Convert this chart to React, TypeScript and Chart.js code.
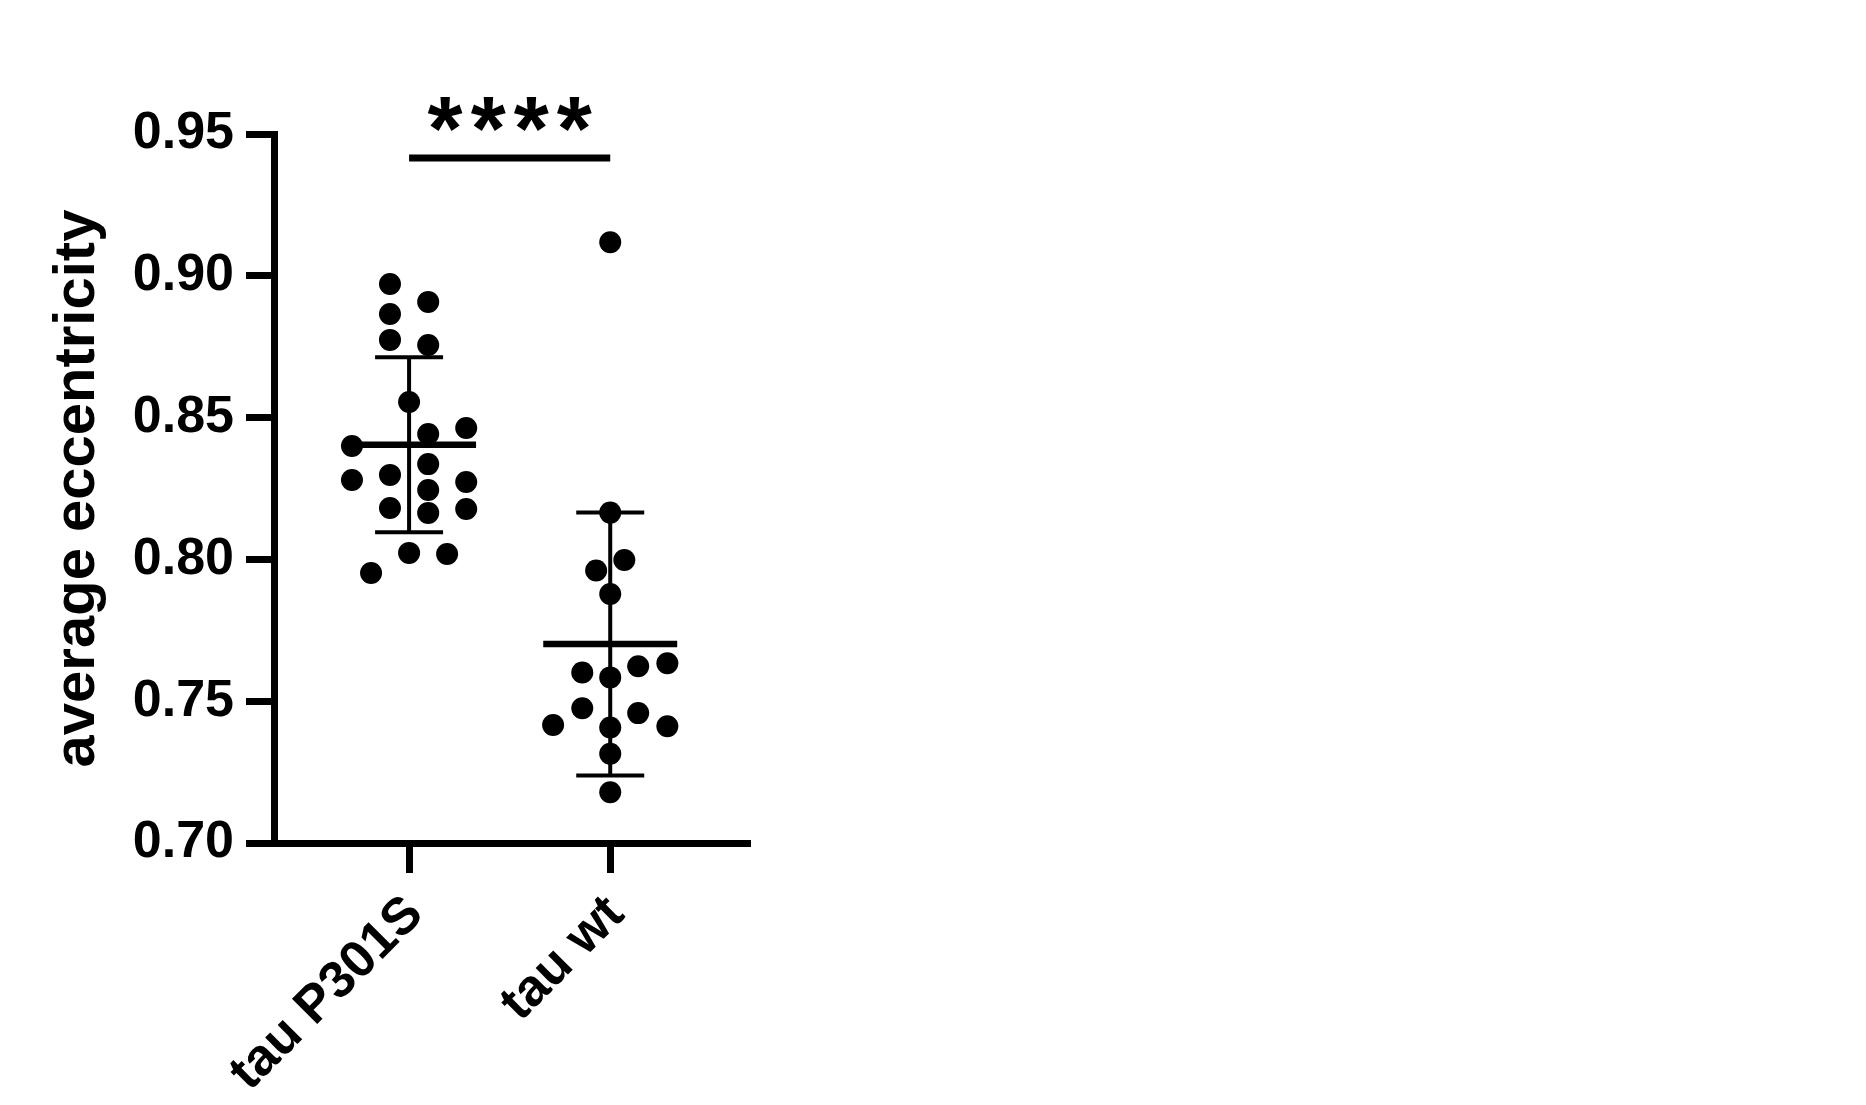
import { useEffect, useRef } from 'react';
import { Chart, registerables } from 'chart.js';

Chart.register(...registerables);

const categories = ['tau P301S', 'tau wt'];
const yTicks = [0.70, 0.75, 0.80, 0.85, 0.90, 0.95];

// tau P301S: each point's value and its sideways spread (category units)
const p301sValues = [
  0.8971, 0.8908, 0.8865, 0.8774, 0.8756, 0.8555, 0.8442, 0.8463, 0.8400, 0.8280,
  0.8298, 0.8336, 0.8245, 0.8273, 0.8181, 0.8164, 0.8178, 0.8023, 0.8019, 0.7952,
];
const p301sSpread = [
  -0.095, 0.095, -0.095, -0.095, 0.095, 0, 0.095, 0.284, -0.284, -0.284,
  -0.095, 0.095, 0.095, 0.284, -0.095, 0.095, 0.284, 0, 0.189, -0.189,
];

// tau wt
const wtValues = [
  0.9118, 0.8165, 0.7961, 0.7998, 0.7878, 0.7601, 0.7584, 0.7623,
  0.7634, 0.7475, 0.7458, 0.7416, 0.7407, 0.7412, 0.7315, 0.7179,
];
const wtSpread = [
  0, 0, -0.07, 0.07, 0, -0.139, 0, 0.139,
  0.284, -0.139, 0.139, -0.284, 0, 0.284, 0, 0,
];

const significance = '****';
const significanceBarY = 0.9415;

const FONT = '"Liberation Sans", Arial, sans-serif';

const mean = (v: number[]) => v.reduce((a, b) => a + b, 0) / v.length;
const stdev = (v: number[]) => {
  const m = mean(v);
  return Math.sqrt(v.reduce((a, b) => a + (b - m) ** 2, 0) / (v.length - 1));
};

const groups = [p301sValues, wtValues];

// mean ± SD bars, plus the significance bracket
const summaryPlugin = {
  id: 'summary',
  afterDatasetsDraw(chart: any) {
    const { ctx, scales } = chart;
    const x = scales.x;
    const y = scales.y;
    ctx.save();
    ctx.strokeStyle = '#000';
    ctx.fillStyle = '#000';
    ctx.lineCap = 'butt';

    groups.forEach((vals, i) => {
      const m = mean(vals);
      const sd = stdev(vals);
      const cx = x.getPixelForValue(i + 1);
      const meanHalf = x.getPixelForValue(i + 1 + 0.333) - cx;
      const capHalf = x.getPixelForValue(i + 1 + 0.169) - cx;
      const yTop = y.getPixelForValue(m + sd);
      const yBot = y.getPixelForValue(m - sd);
      const yMean = y.getPixelForValue(m);

      ctx.lineWidth = 4;
      ctx.beginPath();
      ctx.moveTo(cx, yTop);
      ctx.lineTo(cx, yBot);
      ctx.moveTo(cx - capHalf, yTop);
      ctx.lineTo(cx + capHalf, yTop);
      ctx.moveTo(cx - capHalf, yBot);
      ctx.lineTo(cx + capHalf, yBot);
      ctx.stroke();

      ctx.lineWidth = 6.5;
      ctx.beginPath();
      ctx.moveTo(cx - meanHalf, yMean);
      ctx.lineTo(cx + meanHalf, yMean);
      ctx.stroke();
    });

    const x1 = x.getPixelForValue(1);
    const x2 = x.getPixelForValue(2);
    const by = y.getPixelForValue(significanceBarY);
    ctx.lineWidth = 7;
    ctx.beginPath();
    ctx.moveTo(x1, by);
    ctx.lineTo(x2, by);
    ctx.stroke();

    ctx.font = `bold 90px ${FONT}`;
    (ctx as any).letterSpacing = '8px';
    ctx.textAlign = 'center';
    ctx.textBaseline = 'alphabetic';
    ctx.fillText(significance, (x1 + x2) / 2 + 4, by + 2);
    ctx.restore();
  },
};

export default function App() {
  const canvasRef = useRef<HTMLCanvasElement>(null);
  const chartRef = useRef<Chart | null>(null);

  useEffect(() => {
    if (!canvasRef.current) return;
    if (chartRef.current) chartRef.current.destroy();

    const points = (vals: number[], spread: number[], pos: number) =>
      vals.map((v, i) => ({ x: pos + spread[i], y: v }));

    chartRef.current = new Chart(canvasRef.current, {
      type: 'scatter',
      data: {
        datasets: [
          {
            label: categories[0],
            data: points(p301sValues, p301sSpread, 1),
            backgroundColor: '#000',
            borderWidth: 0,
            pointRadius: 11,
          },
          {
            label: categories[1],
            data: points(wtValues, wtSpread, 2),
            backgroundColor: '#000',
            borderWidth: 0,
            pointRadius: 11,
          },
        ],
      },
      options: {
        responsive: true,
        maintainAspectRatio: false,
        animation: false,
        events: [],
        layout: { padding: { left: 39, right: 1119, top: 134, bottom: 0 } },
        plugins: {
          legend: { display: false },
          tooltip: { enabled: false },
        },
        scales: {
          x: {
            type: 'linear',
            min: 0.3284,
            max: 2.68,
            afterBuildTicks: (s: any) => {
              s.ticks = categories.map((_, i) => ({ value: i + 1 }));
            },
            afterFit: (s: any) => {
              s.height = 262;
            },
            grid: {
              drawOnChartArea: false,
              drawTicks: true,
              tickLength: 30,
              lineWidth: 7,
              color: '#000',
            },
            border: { display: true, color: '#000', width: 7 },
            ticks: {
              autoSkip: false,
              minRotation: 45,
              maxRotation: 45,
              padding: 11,
              labelOffset: 6,
              color: '#000',
              font: { family: FONT, size: 52, weight: 'bold' },
              callback: (v: any) => categories[Math.round(v) - 1] ?? '',
            },
          },
          y: {
            min: 0.70,
            max: 0.95,
            afterBuildTicks: (s: any) => {
              s.ticks = yTicks.map((v) => ({ value: v }));
            },
            afterFit: (s: any) => {
              s.width = 235;
            },
            grid: {
              drawOnChartArea: false,
              drawTicks: true,
              tickLength: 28,
              lineWidth: 7,
              color: '#000',
            },
            border: { display: true, color: '#000', width: 7 },
            ticks: {
              padding: 12,
              color: '#000',
              font: { family: FONT, size: 52, weight: 'bold' },
              callback: (v: any) => Number(v).toFixed(2),
            },
            title: {
              display: true,
              text: 'average eccentricity',
              color: '#000',
              font: { family: FONT, size: 58, weight: 'bold' },
            },
          },
        },
      },
      plugins: [summaryPlugin],
    });

    return () => {
      if (chartRef.current) {
        chartRef.current.destroy();
        chartRef.current = null;
      }
    };
  }, []);

  return (
    <div style={{ position: 'fixed', left: 0, top: 0, width: 1866, height: 1105, background: '#fff' }}>
      <canvas ref={canvasRef}></canvas>
    </div>
  );
}
